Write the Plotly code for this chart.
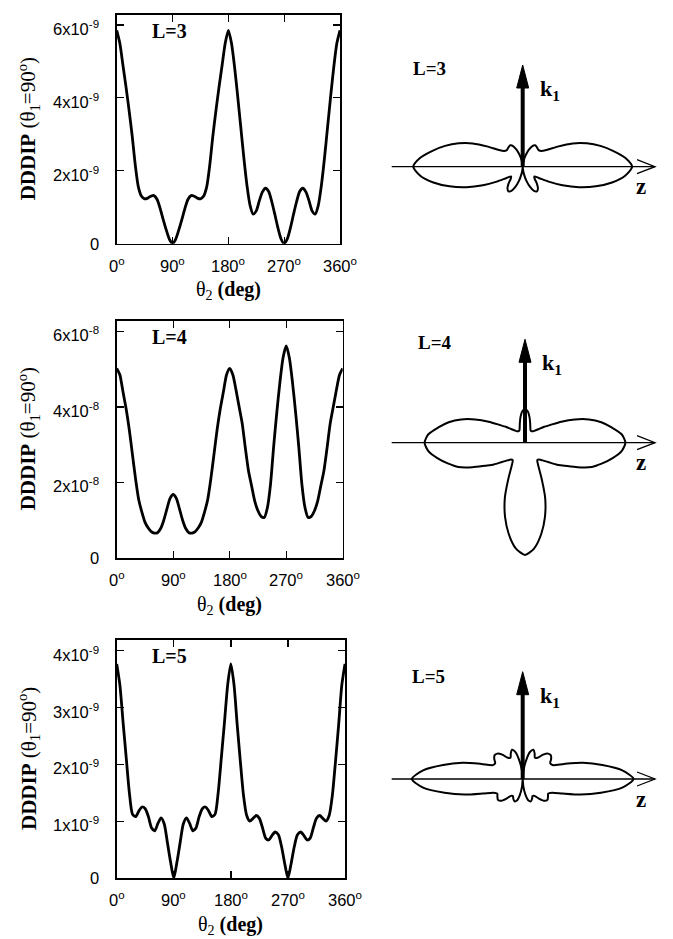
import numpy as np
import plotly.graph_objects as go

# figure fills the whole 673x939 page (body margin removed after plotting)
W, H = 673, 939
OFF = 0

# ---------------- data ----------------
theta2_deg = [0, 5, 10, 15, 20, 25, 30, 35, 40, 45, 50, 55, 60, 65, 70, 75, 80, 85, 90,
              95, 100, 105, 110, 115, 120, 125, 130, 135, 140, 145, 150, 155, 160, 165, 170, 175, 180,
              185, 190, 195, 200, 205, 210, 215, 220, 225, 230, 235, 240, 245, 250, 255, 260, 265, 270,
              275, 280, 285, 290, 295, 300, 305, 310, 315, 320, 325, 330, 335, 340, 345, 350, 355, 360]

# L=3, units of 1e-9
dddip_L3 = [5.85, 5.5, 4.9, 4.3, 3.65, 2.95, 2.15, 1.55, 1.3, 1.23, 1.25, 1.3, 1.32, 1.22, 0.97, 0.66, 0.37, 0.12, 0.0,
            0.12, 0.37, 0.66, 0.97, 1.22, 1.32, 1.3, 1.25, 1.23, 1.3, 1.55, 2.15, 2.95, 3.65, 4.3, 4.9, 5.5, 5.85,
            5.5, 4.85, 4.05, 3.2, 2.35, 1.6, 1.05, 0.81, 0.9, 1.18, 1.42, 1.52, 1.43, 1.15, 0.8, 0.43, 0.13, 0.0,
            0.13, 0.43, 0.8, 1.15, 1.43, 1.52, 1.42, 1.18, 0.9, 0.81, 1.05, 1.6, 2.35, 3.2, 4.05, 4.85, 5.5, 5.85]

# L=4, units of 1e-8
dddip_L4 = [5.02, 4.85, 4.4, 3.95, 3.4, 2.75, 2.1, 1.55, 1.22, 0.95, 0.8, 0.7, 0.66, 0.67, 0.78, 1.0, 1.3, 1.58, 1.68,
            1.58, 1.3, 1.0, 0.78, 0.67, 0.66, 0.7, 0.8, 0.95, 1.22, 1.55, 2.1, 2.75, 3.4, 3.95, 4.4, 4.85, 5.02,
            4.85, 4.45, 4.0, 3.55, 2.9, 2.3, 1.9, 1.5, 1.25, 1.1, 1.07, 1.33, 1.95, 2.95, 3.85, 4.65, 5.3, 5.61,
            5.3, 4.65, 3.85, 2.95, 1.95, 1.33, 1.07, 1.1, 1.25, 1.5, 1.9, 2.3, 2.9, 3.55, 4.0, 4.45, 4.85, 5.02]

# L=5, units of 1e-9
dddip_L5 = [3.77, 3.4, 2.75, 2.12, 1.5, 1.12, 1.08, 1.18, 1.25, 1.22, 1.08, 0.88, 0.83, 0.96, 1.06, 0.95, 0.62, 0.28, 0.0,
            0.28, 0.62, 0.95, 1.06, 0.96, 0.83, 0.88, 1.08, 1.22, 1.25, 1.18, 1.08, 1.12, 1.5, 2.12, 2.75, 3.4, 3.77,
            3.4, 2.7, 2.05, 1.45, 1.1, 1.0, 1.05, 1.1, 1.05, 0.88, 0.7, 0.67, 0.75, 0.81, 0.76, 0.55, 0.25, 0.0,
            0.25, 0.55, 0.76, 0.81, 0.75, 0.67, 0.7, 0.88, 1.05, 1.1, 1.05, 1.0, 1.1, 1.45, 2.05, 2.7, 3.4, 3.77]

units = [1e-9, 1e-8, 1e-9]
panel_labels = ["L=3", "L=4", "L=5"]

x_tickvals = [0, 90, 180, 270, 360]
x_ticktext = ["0<sup>o</sup>", "90<sup>o</sup>", "180<sup>o</sup>", "270<sup>o</sup>", "360<sup>o</sup>"]

y_tickvals_L3 = [0, 2e-9, 4e-9, 6e-9]
y_ticktext_L3 = ["0", "2x10<sup>-9</sup>", "4x10<sup>-9</sup>", "6x10<sup>-9</sup>"]
y_tickvals_L4 = [0, 2e-8, 4e-8, 6e-8]
y_ticktext_L4 = ["0", "2x10<sup>-8</sup>", "4x10<sup>-8</sup>", "6x10<sup>-8</sup>"]
y_tickvals_L5 = [0, 1e-9, 2e-9, 3e-9, 4e-9]
y_ticktext_L5 = ["0", "1x10<sup>-9</sup>", "2x10<sup>-9</sup>", "3x10<sup>-9</sup>", "4x10<sup>-9</sup>"]

# ---------------- layout geometry (page pixels) ----------------
left_boxes = [  # x0, x1, ytop, ybottom, ymax
    (116.7, 340.0, 15.0, 243.7, 6.27e-9),
    (116.7, 342.7, 320.7, 558.0, 6.28e-8),
    (116.7, 345.0, 640.0, 878.0, 4.19e-9),
]
# polar panels: center x, center y, px per unit, box top, box bottom
polar_geom = [
    (522.7, 166.7, 18.7, 40.0, 260.0),
    (525.0, 442.7, 20.0, 320.0, 580.0),
    (522.7, 779.0, 29.4, 640.0, 880.0),
]
polar_x0, polar_x1 = 375.0, 664.0
k1_tips = [65.0, 339.3, 671.7]
right_label_pos = [(430, 68), (435, 342), (428, 676)]
ytick_label_right = 100.5   # right edge of y tick labels
xtick_label_drop = 21       # centre of x tick labels below the axis

SERIF = "Liberation Serif, Times New Roman, serif"
SANS = "Liberation Sans, Arial, Helvetica, sans-serif"


def px(x):
    return (x - OFF) / W


def py(y):
    return 1 - (y - OFF) / H


def note(x, y, text, size, angle=0):
    return dict(x=px(x), y=py(y), xref="paper", yref="paper", text=text, showarrow=False,
                xanchor="center", yanchor="middle", textangle=angle,
                font=dict(family=SERIF, size=size, color="black"))


fig = go.Figure()
series = [dddip_L3, dddip_L4, dddip_L5]
ytv = [y_tickvals_L3, y_tickvals_L4, y_tickvals_L5]
ytt = [y_ticktext_L3, y_ticktext_L4, y_ticktext_L5]
th = np.radians(np.array(theta2_deg, dtype=float))

layout = dict(width=W, height=H, margin=dict(l=0, r=0, t=0, b=0),
              paper_bgcolor="white", plot_bgcolor="white", showlegend=False)
annotations = []
shapes = []
tickfont = dict(family=SANS, size=16.5, color="black")

for i in range(3):
    vals = np.array(series[i]) * units[i]
    k = i + 1
    fig.add_trace(go.Scatter(x=theta2_deg, y=vals, mode="lines",
                             line=dict(color="black", width=2.8, shape="spline", smoothing=0.7),
                             xaxis=f"x{k}", yaxis=f"y{k}", hoverinfo="skip"))
    x0, x1, yt, yb, ymax = left_boxes[i]
    xa = "xaxis" if k == 1 else f"xaxis{k}"
    ya = "yaxis" if k == 1 else f"yaxis{k}"
    layout[xa] = dict(domain=[px(x0), px(x1)], range=[0, 360], anchor=f"y{k}",
                      tickvals=x_tickvals, showticklabels=False, ticks="inside", ticklen=7,
                      tickwidth=1.3, tickcolor="black", showline=True, linecolor="black",
                      linewidth=1.6, mirror="ticks", showgrid=False, zeroline=False)
    layout[ya] = dict(domain=[py(yb), py(yt)], range=[0, ymax], anchor=f"x{k}",
                      tickvals=ytv[i], showticklabels=False, ticks="inside", ticklen=7,
                      tickwidth=1.3, tickcolor="black", showline=True, linecolor="black",
                      linewidth=1.6, mirror="ticks", showgrid=False, zeroline=False)
    # tick labels, placed on the axes' own scales
    for v, t in zip(ytv[i], ytt[i]):
        annotations.append(dict(x=px(ytick_label_right), xref="paper", y=v, yref=f"y{k}",
                                text=t, showarrow=False, xanchor="right", yanchor="middle",
                                yshift=-3 if "sup" in t else 0, font=tickfont))
    for v, t in zip(x_tickvals, x_ticktext):
        annotations.append(dict(x=v, xref=f"x{k}", y=py(yb + xtick_label_drop), yref="paper",
                                text=t, showarrow=False, xanchor="center", yanchor="middle",
                                font=tickfont))
    # panel label
    annotations.append(note(169, yt + 16, f"<b>{panel_labels[i]}</b>", 20))
    # axis titles
    annotations.append(note(28, (yt + yb) / 2, "<b>DDDIP</b> (θ<sub>1</sub>=90<sup>o</sup>)", 21, -90))
    annotations.append(note((x0 + x1) / 2, yb + 47, "θ<sub>2</sub> <b>(deg)</b>", 20))

    # ---- polar panel ----
    cx, cy, s, bt, bb = polar_geom[i]
    r = np.array(series[i])  # in panel units
    xs = r * np.cos(th)
    ys = r * np.sin(th)
    kp = i + 4
    fig.add_trace(go.Scatter(x=xs, y=ys, mode="lines",
                             line=dict(color="black", width=2.0, shape="spline", smoothing=0.7),
                             xaxis=f"x{kp}", yaxis=f"y{kp}", hoverinfo="skip"))
    layout[f"xaxis{kp}"] = dict(domain=[px(polar_x0), px(polar_x1)],
                                range=[(polar_x0 - cx) / s, (polar_x1 - cx) / s],
                                visible=False, anchor=f"y{kp}", fixedrange=True)
    layout[f"yaxis{kp}"] = dict(domain=[py(bb), py(bt)],
                                range=[-(bb - cy) / s, (cy - bt) / s],
                                visible=False, anchor=f"x{kp}", fixedrange=True)
    # z axis with open arrow head
    shapes.append(dict(type="line", xref="paper", yref="paper", x0=px(391.7), y0=py(cy),
                       x1=px(655), y1=py(cy), line=dict(color="black", width=1.3)))
    shapes.append(dict(type="path", xref="paper", yref="paper",
                       path=f"M {px(637)},{py(cy - 7)} L {px(655)},{py(cy)} L {px(637)},{py(cy + 7)}",
                       line=dict(color="black", width=1.3)))
    # k1 arrow
    tip = k1_tips[i]
    shapes.append(dict(type="line", xref="paper", yref="paper", x0=px(cx), y0=py(cy),
                       x1=px(cx), y1=py(tip + 20), line=dict(color="black", width=4)))
    shapes.append(dict(type="path", xref="paper", yref="paper",
                       path=f"M {px(cx - 6)},{py(tip + 23)} L {px(cx)},{py(tip)} L {px(cx + 6)},{py(tip + 23)} Z",
                       fillcolor="black", line=dict(color="black", width=1)))
    annotations.append(note(cx + 27, tip + 25, "<b>k<sub>1</sub></b>", 22))
    annotations.append(note(641, cy + 20, "<b>z</b>", 23))
    annotations.append(note(right_label_pos[i][0], right_label_pos[i][1],
                            f"<b>{panel_labels[i]}</b>", 19))

layout["annotations"] = annotations
layout["shapes"] = shapes
fig.update_layout(**layout)

fig.write_html("out.html", config={"displayModeBar": False, "staticPlot": True},
               post_script="document.body.style.margin='0px';document.body.style.overflow='hidden';")
